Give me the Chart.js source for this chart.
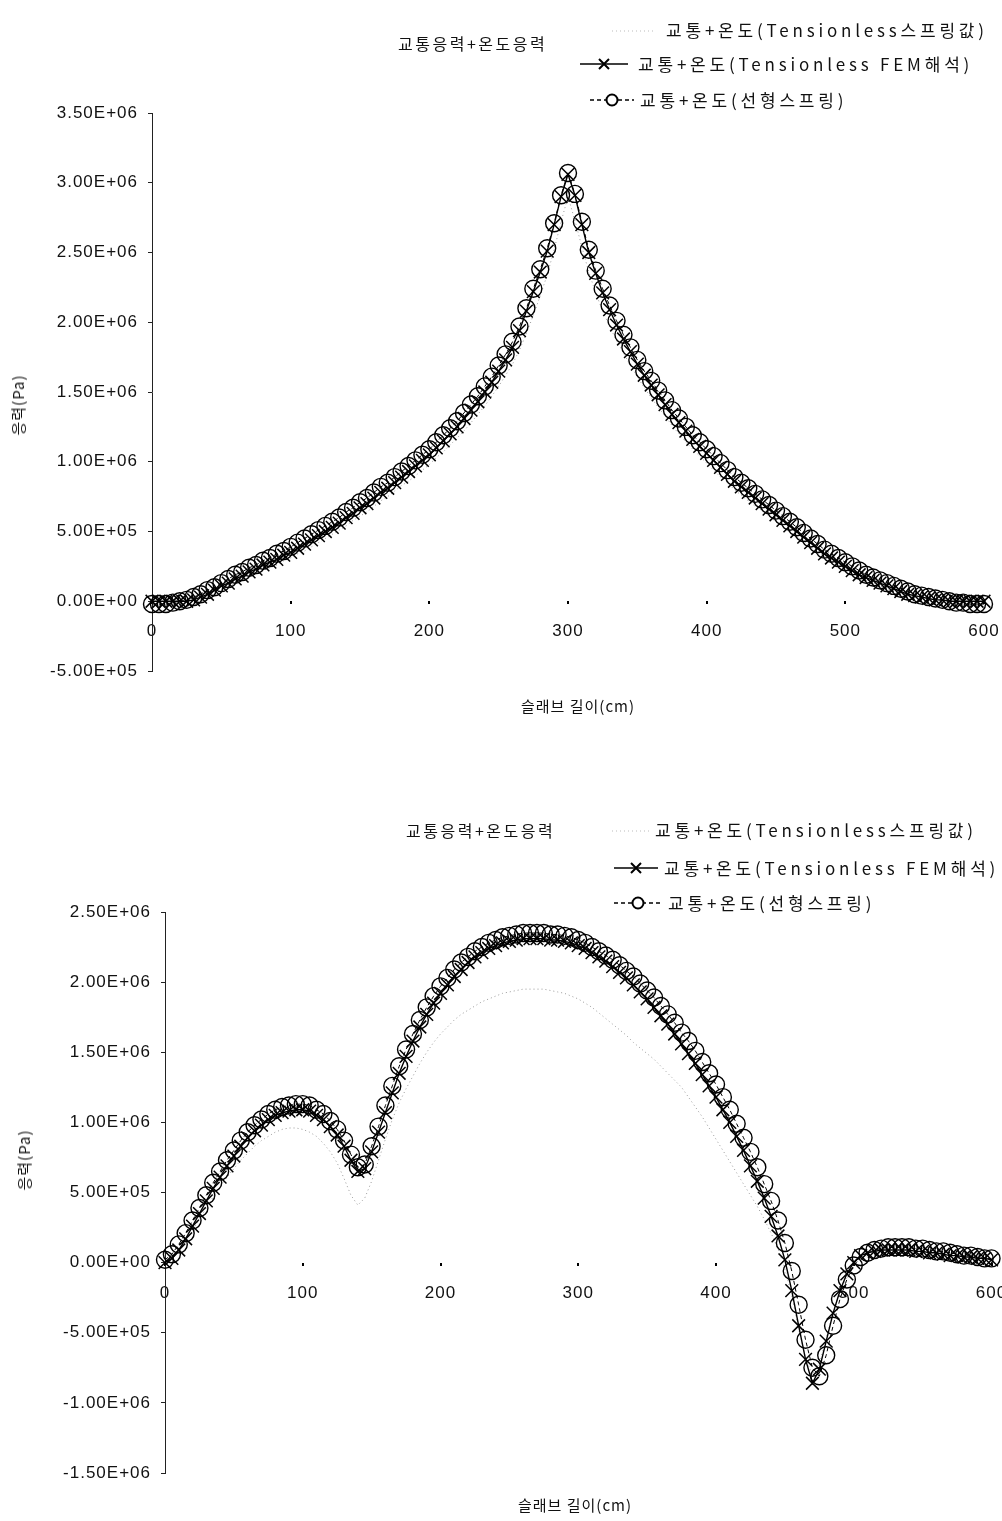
<!DOCTYPE html>
<html>
<head>
<meta charset="utf-8">
<script src="https://cdn.jsdelivr.net/npm/chart.js@4.4.0/dist/chart.umd.min.js"></script>
<style>
    body { margin: 0; width: 1002px; height: 1521px; position: relative; overflow: hidden; background: #fff;
           font-family: 'Noto Sans CJK KR', 'Noto Sans', sans-serif; color: #111; }
    canvas { position: absolute; left: 0; }
    .txt { position: absolute; white-space: nowrap; line-height: 20px; height: 20px; }
    .title { font-size: 16px; letter-spacing: 2.5px; }
    .leg { font-size: 17px; letter-spacing: 3.8px; }
    .axis { font-size: 15px; letter-spacing: 1px; }
    .ylab { transform: translate(-50%, -50%) rotate(-90deg); }
    svg.sym { position: absolute; overflow: visible; }
</style>
</head>
<body>
<canvas id="topChart" width="1002" height="760" style="top:0"></canvas>
<canvas id="bottomChart" width="1002" height="761" style="top:760px"></canvas>

<!-- upper chart texts -->
<div class="txt title" style="left:398px; top:33px">교통응력+온도응력</div>
<svg class="sym" style="left:612px; top:30px" width="48" height="2"><line x1="0" y1="1" x2="44" y2="1" stroke="#bbb" stroke-width="1" stroke-dasharray="1 3"/></svg>
<div class="txt leg" style="left:666px; top:20px">교통+온도(Tensionless스프링값)</div>
<svg class="sym" style="left:580px; top:57px" width="48" height="14"><line x1="0" y1="7" x2="48" y2="7" stroke="#000" stroke-width="1.5"/><path d="M19 2 L29 12 M29 2 L19 12" stroke="#000" stroke-width="2"/></svg>
<div class="txt leg" style="left:638px; top:54px">교통+온도(Tensionless FEM해석)</div>
<svg class="sym" style="left:590px; top:93px" width="44" height="14"><line x1="0" y1="7" x2="44" y2="7" stroke="#000" stroke-width="1.5" stroke-dasharray="4 3"/><circle cx="22" cy="7" r="5.5" fill="#fff" stroke="#000" stroke-width="2"/></svg>
<div class="txt leg" style="left:640px; top:90px">교통+온도(선형스프링)</div>
<div class="txt axis" style="left:578px; top:696px; transform:translateX(-50%)">슬래브 길이(cm)</div>
<div class="txt axis ylab" style="left:18px; top:405px">응력(Pa)</div>

<!-- lower chart texts -->
<div class="txt title" style="left:406px; top:820px">교통응력+온도응력</div>
<svg class="sym" style="left:612px; top:830px" width="44" height="2"><line x1="0" y1="1" x2="40" y2="1" stroke="#bbb" stroke-width="1" stroke-dasharray="1 3"/></svg>
<div class="txt leg" style="left:655px; top:820px">교통+온도(Tensionless스프링값)</div>
<svg class="sym" style="left:614px; top:861px" width="44" height="14"><line x1="0" y1="7" x2="44" y2="7" stroke="#000" stroke-width="1.5"/><path d="M17 2 L27 12 M27 2 L17 12" stroke="#000" stroke-width="2"/></svg>
<div class="txt leg" style="left:664px; top:858px">교통+온도(Tensionless FEM해석)</div>
<svg class="sym" style="left:614px; top:896px" width="48" height="14"><line x1="0" y1="7" x2="48" y2="7" stroke="#000" stroke-width="1.5" stroke-dasharray="4 3"/><circle cx="24" cy="7" r="5.5" fill="#fff" stroke="#000" stroke-width="2"/></svg>
<div class="txt leg" style="left:668px; top:893px">교통+온도(선형스프링)</div>
<div class="txt axis" style="left:575px; top:1495px; transform:translateX(-50%)">슬래브 길이(cm)</div>
<div class="txt axis ylab" style="left:24px; top:1160px">응력(Pa)</div>

<script>
// slab position (cm), same stations for every series
const lengthCm = [
    0, 5, 10, 15, 20, 25, 30, 35, 40, 45, 50, 55, 60, 65, 70, 75, 80, 85, 90, 95,
    100, 105, 110, 115, 120, 125, 130, 135, 140, 145, 150, 155, 160, 165, 170, 175, 180, 185, 190, 195,
    200, 205, 210, 215, 220, 225, 230, 235, 240, 245, 250, 255, 260, 265, 270, 275, 280, 285, 290, 295,
    300, 305, 310, 315, 320, 325, 330, 335, 340, 345, 350, 355, 360, 365, 370, 375, 380, 385, 390, 395,
    400, 405, 410, 415, 420, 425, 430, 435, 440, 445, 450, 455, 460, 465, 470, 475, 480, 485, 490, 495,
    500, 505, 510, 515, 520, 525, 530, 535, 540, 545, 550, 555, 560, 565, 570, 575, 580, 585, 590, 595,
    600
];

// stresses below are in units of 1e5 Pa
const STRESS_UNIT = 1e5;

// upper chart
const topSpring = [
    0, 0, 0, 0, 0, 0, 0, 0.1, 0.3, 0.5,
    0.8, 1.0, 1.3, 1.5, 1.7, 2.0, 2.2, 2.4, 2.6, 2.9,
    3.1, 3.4, 3.6, 3.9, 4.2, 4.5, 4.8, 5.1, 5.4, 5.8,
    6.1, 6.4, 6.8, 7.2, 7.5, 7.9, 8.3, 8.6, 9.0, 9.4,
    9.8, 10.3, 10.7, 11.2, 11.7, 12.2, 12.8, 13.4, 14.0, 14.7,
    15.4, 16.2, 17.0, 18.0, 19.2, 20.5, 21.9, 23.4, 25.2, 27.2,
    29.0,
    27.3, 25.4, 23.6, 22.1, 20.8, 19.7, 18.7, 17.8, 16.9, 16.1,
    15.3, 14.6, 13.9, 13.3, 12.6, 12.0, 11.4, 10.9, 10.4, 9.9,
    9.4, 8.9, 8.5, 8.0, 7.6, 7.2, 6.8, 6.5, 6.1, 5.7,
    5.4, 5.0, 4.6, 4.3, 3.9, 3.5, 3.2, 2.9, 2.6, 2.3,
    2.0, 1.7, 1.5, 1.3, 1.1, 0.9, 0.7, 0.5, 0.4, 0.3,
    0.2, 0.1, 0.1, 0, 0, 0, 0, 0, 0, 0
];
const topFem = [
    0, 0, 0, 0, 0, 0, 0.1, 0.3, 0.5, 0.8,
    1.1, 1.3, 1.6, 1.8, 2.1, 2.3, 2.6, 2.8, 3.0, 3.3,
    3.5, 3.8, 4.1, 4.4, 4.7, 5.0, 5.3, 5.6, 6.0, 6.3,
    6.7, 7.0, 7.4, 7.8, 8.1, 8.5, 8.9, 9.3, 9.7, 10.1,
    10.5, 11.0, 11.5, 12.0, 12.5, 13.1, 13.7, 14.3, 15.0, 15.7,
    16.5, 17.3, 18.2, 19.4, 20.8, 22.2, 23.6, 25.1, 27.0, 29.0,
    30.6,
    29.1, 27.0, 25.0, 23.5, 22.1, 20.9, 19.8, 18.8, 17.9, 17.0,
    16.2, 15.5, 14.8, 14.1, 13.4, 12.8, 12.2, 11.6, 11.1, 10.6,
    10.1, 9.6, 9.1, 8.6, 8.2, 7.8, 7.4, 7.0, 6.6, 6.2,
    5.8, 5.4, 5.0, 4.6, 4.2, 3.8, 3.4, 3.1, 2.8, 2.5,
    2.2, 1.9, 1.7, 1.5, 1.3, 1.1, 0.9, 0.7, 0.5, 0.4,
    0.3, 0.2, 0.1, 0.1, 0, 0, 0, 0, 0, 0
];
const topLinear = [
    -0.2, -0.2, -0.2, -0.1, 0, 0.1, 0.3, 0.5, 0.8, 1.0,
    1.3, 1.6, 1.9, 2.1, 2.4, 2.6, 2.9, 3.1, 3.4, 3.6,
    3.9, 4.2, 4.5, 4.8, 5.1, 5.4, 5.7, 6.0, 6.4, 6.7,
    7.1, 7.4, 7.8, 8.2, 8.5, 8.9, 9.3, 9.7, 10.1, 10.5,
    10.9, 11.4, 11.9, 12.4, 12.9, 13.5, 14.1, 14.7, 15.4, 16.1,
    16.9, 17.7, 18.6, 19.7, 21.0, 22.4, 23.8, 25.3, 27.1, 29.1,
    30.7,
    29.2, 27.2, 25.2, 23.7, 22.4, 21.2, 20.1, 19.1, 18.2, 17.3,
    16.5, 15.8, 15.1, 14.4, 13.7, 13.1, 12.5, 11.9, 11.4, 10.9,
    10.4, 9.9, 9.4, 8.9, 8.5, 8.1, 7.7, 7.3, 6.9, 6.5,
    6.1, 5.7, 5.3, 4.9, 4.5, 4.1, 3.7, 3.4, 3.1, 2.8,
    2.5, 2.2, 1.9, 1.7, 1.5, 1.3, 1.1, 0.9, 0.7, 0.5,
    0.4, 0.3, 0.2, 0.1, 0.0, -0.1, -0.1, -0.2, -0.2, -0.2
];

// lower chart
const botSpring = [
    0.0, 0.3, 0.8, 1.5, 2.3, 3.1, 3.9, 4.7, 5.4, 6.1,
    6.7, 7.3, 7.8, 8.3, 8.7, 9.0, 9.3, 9.5, 9.6, 9.6,
    9.5, 9.3, 9.0, 8.5, 7.9, 7.1, 6.0, 4.8, 4.1, 4.6,
    5.8, 7.3, 8.8, 10.2, 11.4, 12.4, 13.3, 14.2, 15.0, 15.7,
    16.3, 16.8, 17.3, 17.7, 18.0, 18.3, 18.6, 18.8, 19.0, 19.2,
    19.3, 19.4, 19.5, 19.5, 19.5, 19.5, 19.4, 19.3, 19.2, 19.0,
    18.8,
    18.5, 18.2, 17.8, 17.4, 17.0, 16.6, 16.2, 15.7, 15.3, 14.9,
    14.5, 14.0, 13.5, 13.0, 12.5, 11.8, 11.1, 10.4, 9.6, 8.8,
    8.0, 7.2, 6.4, 5.6, 4.8, 4.0, 3.1, 2.1, 1.0, -0.4,
    -2.4, -4.7, -6.8, -8.0, -7.2, -5.4, -3.6, -2.1, -1.0, -0.2,
    0.3, 0.5, 0.6, 0.7, 0.7, 0.7, 0.7, 0.7, 0.6, 0.6,
    0.5, 0.5, 0.4, 0.4, 0.3, 0.3, 0.3, 0.2, 0.2, 0.2
];
const botFem = [
    0.0, 0.3, 0.9, 1.7, 2.6, 3.5, 4.4, 5.3, 6.1, 6.9,
    7.6, 8.3, 8.9, 9.4, 9.8, 10.2, 10.5, 10.7, 10.8, 10.9,
    10.9, 10.8, 10.5, 10.2, 9.7, 9.1, 8.3, 7.3, 6.5, 6.7,
    7.9, 9.3, 10.7, 12.1, 13.5, 14.7, 15.8, 16.8, 17.7, 18.5,
    19.2, 19.8, 20.4, 20.9, 21.4, 21.8, 22.1, 22.4, 22.6, 22.8,
    22.9, 23.0, 23.1, 23.1, 23.1, 23.1, 23.0, 23.0, 22.9, 22.8,
    22.6,
    22.4, 22.1, 21.8, 21.5, 21.1, 20.7, 20.3, 19.8, 19.3, 18.8,
    18.2, 17.6, 17.0, 16.3, 15.6, 14.9, 14.2, 13.4, 12.6, 11.8,
    10.9, 10.0, 9.0, 8.0, 6.9, 5.8, 4.6, 3.3, 1.9, 0.2,
    -2.0, -4.5, -6.9, -8.6, -7.6, -5.6, -3.6, -2.0, -0.8, 0.0,
    0.5, 0.7, 0.8, 0.9, 0.9, 0.9, 0.9, 0.9, 0.8, 0.8,
    0.7, 0.7, 0.6, 0.5, 0.5, 0.4, 0.4, 0.3, 0.3, 0.2
];
const botLinear = [
    0.2, 0.6, 1.3, 2.1, 3.0, 3.9, 4.8, 5.7, 6.5, 7.3,
    8.0, 8.7, 9.3, 9.8, 10.2, 10.6, 10.9, 11.1, 11.2, 11.3,
    11.3, 11.2, 10.9, 10.6, 10.1, 9.5, 8.7, 7.7, 6.8, 7.0,
    8.3, 9.7, 11.2, 12.6, 14.0, 15.2, 16.3, 17.3, 18.2, 19.0,
    19.7, 20.3, 20.9, 21.4, 21.8, 22.2, 22.5, 22.8, 23.0, 23.2,
    23.3, 23.4, 23.5, 23.5, 23.5, 23.5, 23.4, 23.4, 23.3, 23.2,
    23.0,
    22.8, 22.5, 22.2, 21.9, 21.6, 21.2, 20.8, 20.4, 19.9, 19.4,
    18.9, 18.3, 17.7, 17.1, 16.4, 15.8, 15.1, 14.3, 13.5, 12.7,
    11.8, 10.9, 9.9, 8.9, 7.9, 6.8, 5.6, 4.4, 3.0, 1.4,
    -0.6, -3.0, -5.5, -7.5, -8.1, -6.6, -4.5, -2.6, -1.2, -0.2,
    0.4, 0.7, 0.9, 1.0, 1.1, 1.1, 1.1, 1.1, 1.0, 1.0,
    0.9, 0.8, 0.8, 0.7, 0.6, 0.5, 0.5, 0.4, 0.3, 0.3
];

const seriesLabels = [
    '교통+온도(Tensionless스프링값)',
    '교통+온도(Tensionless FEM해석)',
    '교통+온도(선형스프링)'
];
const xTicks = [0, 100, 200, 300, 400, 500, 600];

// 3.50E+06 style labels like the spreadsheet axis
function sciLabel(v) {
    if (v === 0) return '0.00E+00';
    const e = Math.floor(Math.log10(Math.abs(v)) + 1e-9);
    const m = v / Math.pow(10, e);
    return m.toFixed(2) + 'E' + (e < 0 ? '-' : '+') + String(Math.abs(e)).padStart(2, '0');
}

function toPoints(values) {
    return values.map((v, i) => ({ x: lengthCm[i], y: v * STRESS_UNIT }));
}

const tickSpacing = {
    id: 'tickSpacing',
    beforeDraw(chart) { chart.ctx.letterSpacing = '1px'; }
};

function buildChart(id, spring, fem, linear, yMin, yMax, area) {
    const tickFont = { family: "'Liberation Sans', Arial, sans-serif", size: 17 };
    return new Chart(document.getElementById(id), {
        type: 'line',
        data: {
            datasets: [
                {
                    label: seriesLabels[0], data: toPoints(spring),
                    borderColor: '#999', borderWidth: 1, borderDash: [1, 3],
                    pointRadius: 0, fill: false, clip: false, order: 3
                },
                {
                    label: seriesLabels[1], data: toPoints(fem),
                    borderColor: '#000', borderWidth: 1.4,
                    pointStyle: 'crossRot', pointRadius: 9, pointBorderWidth: 1.5,
                    pointBorderColor: '#000', fill: false, clip: false, order: 1
                },
                {
                    label: seriesLabels[2], data: toPoints(linear),
                    borderColor: '#000', borderWidth: 1, borderDash: [4, 3],
                    pointStyle: 'circle', pointRadius: 8.5, pointBorderWidth: 1.4,
                    pointBorderColor: '#000', pointBackgroundColor: 'rgba(0,0,0,0)',
                    fill: false, clip: false, order: 2
                }
            ]
        },
        options: {
            responsive: false,
            animation: false,
            events: [],
            layout: { padding: { left: 0, top: area.top, right: area.right, bottom: area.bottom } },
            plugins: { legend: { display: false }, title: { display: false }, tooltip: { enabled: false } },
            scales: {
                x: {
                    type: 'linear', min: 0, max: 600,
                    position: { y: 0 },
                    border: { display: false },
                    grid: { drawOnChartArea: false, drawTicks: true, tickLength: 3, color: '#000', lineWidth: 2 },
                    afterBuildTicks(scale) { scale.ticks = xTicks.map(v => ({ value: v })); },
                    afterFit(scale) { scale.paddingLeft = 0; scale.paddingRight = 0; },
                    ticks: { color: '#111', font: tickFont, padding: 17, autoSkip: false, maxRotation: 0,
                             callback: v => String(v) }
                },
                y: {
                    type: 'linear', min: yMin, max: yMax,
                    border: { display: true, color: '#222', width: 1 },
                    grid: { drawOnChartArea: false, drawTicks: true, tickLength: 4, color: '#222' },
                    afterFit(scale) { scale.width = area.left; },
                    ticks: { stepSize: 5e5, color: '#111', font: tickFont, padding: 10,
                             callback: v => sciLabel(v) }
                }
            }
        },
        plugins: [tickSpacing]
    });
}

buildChart('topChart', topSpring, topFem, topLinear, -5e5, 3.5e6,
    { left: 152, top: 113, right: 18, bottom: 89 });
buildChart('bottomChart', botSpring, botFem, botLinear, -1.5e6, 2.5e6,
    { left: 165, top: 152, right: 8, bottom: 48 });
</script>
</body>
</html>
